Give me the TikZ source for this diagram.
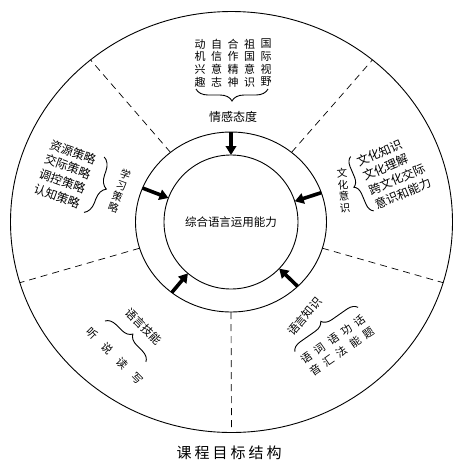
\documentclass[tikz,border=0pt]{standalone}
\usepackage{fontspec}
\setmainfont{Noto Sans CJK SC}
\usetikzlibrary{arrows.meta,shapes.geometric,decorations.pathreplacing}
\begin{document}
\begin{tikzpicture}[x=1pt,y=1pt,
  every node/.style={inner sep=0pt, outer sep=0pt},
  ring/.style={draw, line width=0.9pt, inner sep=0pt, outer sep=0pt},
  sepline/.style={line width=0.7pt, dash pattern=on 7pt off 5pt},
  push/.style={line width=3.6pt, -{Triangle[length=9pt,width=10.5pt]}},
  brc/.style={decorate, decoration={brace, amplitude=#1}, line width=0.9pt},
  colt/.style={font=\fontsize{11}{12.7}\selectfont, align=center},
  linet/.style={font=\fontsize{12}{14}\selectfont},
  vcol/.style={font=\fontsize{10.5}{11.7}\selectfont, align=center},
  lab/.style={font=\fontsize{11.5}{13}\selectfont},
]
\useasboundingbox (0,0) rectangle (462,-475);

% rings
\node[ring, ellipse, minimum width=442pt, minimum height=421pt] (outer) at (231.5,-222) {};
\node[ring, ellipse, minimum width=191pt, minimum height=180pt] (mid) at (231,-222) {};
\node[ring, circle, minimum size=134pt, font=\fontsize{11.5}{13}\selectfont] (inn) at (231,-222) {综合语言运用能力};

% arrows
\foreach \a in {90,159,18,230,316} \draw[push] (mid.\a) -- (inn.\a);
% dashed separators
\foreach \a in {49,131,196,270,344} \draw[sepline] (mid.\a) -- (outer.\a);

% top group: 情感态度
\node[colt] (t1) at (200,-63) {动\\机\\兴\\趣};
\node[colt] (t2) at (216.5,-63) {自\\信\\意\\志};
\node[colt] (t3) at (233,-63) {合\\作\\精\\神};
\node[colt] (t4) at (249.5,-63) {祖\\国\\意\\识};
\node[colt] (t5) at (266,-63) {国\\际\\视\\野};
\coordinate (tb1) at (268,-89);
\coordinate (tb2) at (196,-89);
\draw[brc=12pt] (tb1) -- (tb2);
\node[font=\fontsize{12}{14}\selectfont] (tlab) at (233,-117) {情感态度};

% left group: 学习策略
\begin{scope}[shift={(73,-152)}, rotate=-20, transform shape]
  \node[linet] (l1) at (0,0) {资源策略};
  \node[linet] (l2) at (0,-15.6) {交际策略};
  \node[linet] (l3) at (0,-31.2) {调控策略};
  \node[linet] (l4) at (0,-46.8) {认知策略};
  \coordinate (lb1) at (31,6);
  \coordinate (lb2) at (31,-53);
  \draw[brc=13pt] (lb1) -- (lb2);
  \node[vcol] (llab) at (57,-21) {学\\习\\策\\略};
\end{scope}

% right group: 文化意识
\begin{scope}[shift={(363,-160)}, rotate=23, transform shape]
  \node[linet, anchor=west] (r1) at (-6,0) {文化知识};
  \node[linet, anchor=west] (r2) at (-6,-15.6) {文化理解};
  \node[linet, anchor=west] (r3) at (-6,-31.2) {跨文化交际};
  \node[linet, anchor=west] (r4) at (-6,-46.8) {意识和能力};
  \coordinate (rb1) at (-10,-51);
  \coordinate (rb2) at (-10,8);
  \draw[brc=9pt] (rb1) -- (rb2);
\end{scope}
\node[vcol, rotate=5] (rlab) at (343.5,-190.5) {文\\化\\意\\识};

% lower-left group: 语言技能
\begin{scope}[shift={(125.5,-341.5)}, rotate=-45, transform shape]
  \node[lab] (sklab) at (2,23.3) {语言技能};
  \coordinate (sb1) at (-29,0);
  \coordinate (sb2) at (29,0);
  \draw[brc=10.5pt] (sb1) -- (sb2);
  \node[font=\fontsize{11}{13}\selectfont] (skills) at (2.8,-17.6) {听\hspace{10pt}说\hspace{10pt}读\hspace{10pt}写};
\end{scope}

% lower-right group: 语言知识
\node[lab, rotate=50] (kn) at (304.5,-316.5) {语言知识};
\begin{scope}[shift={(326.5,-329.5)}, rotate=35, transform shape]
  \coordinate (kb1) at (-38.7,0);
  \coordinate (kb2) at (38.7,0);
  \draw[brc=10pt] (kb1) -- (kb2);
  \node[colt, font=\fontsize{11}{15.3}\selectfont] (k1) at (-32.6,-19.5) {语\\音};
  \node[colt, font=\fontsize{11}{15.3}\selectfont] (k2) at (-16.3,-19.5) {词\\汇};
  \node[colt, font=\fontsize{11}{15.3}\selectfont] (k3) at (0,-19.5) {语\\法};
  \node[colt, font=\fontsize{11}{15.3}\selectfont] (k4) at (16.3,-19.5) {功\\能};
  \node[colt, font=\fontsize{11}{15.3}\selectfont] (k5) at (32.6,-19.5) {话\\题};
\end{scope}

% caption
\node[font=\fontsize{15}{17}\selectfont] (cap) at (229,-453) {课\hspace{3pt}程\hspace{3pt}目\hspace{3pt}标\hspace{3pt}结\hspace{3pt}构};
\end{tikzpicture}
\end{document}
